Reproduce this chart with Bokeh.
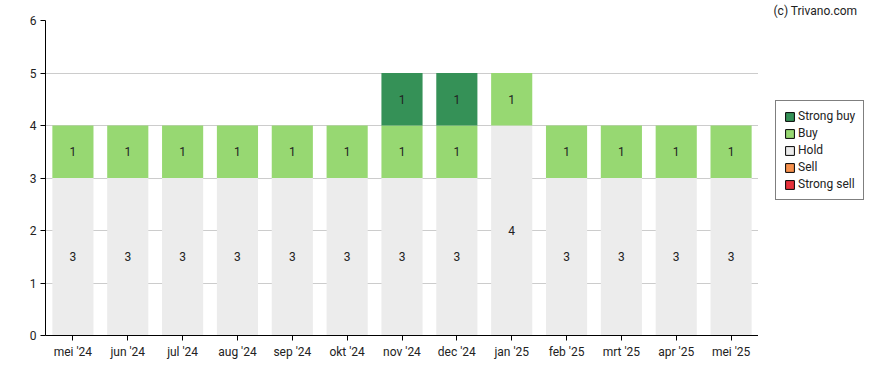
from bokeh.plotting import figure
from bokeh.layouts import row
from bokeh.models import Legend, LegendItem, Title, ColumnDataSource, FactorRange, Range1d, FixedTicker
from bokeh.core.properties import value
from bokeh.embed import file_html
from bokeh.resources import INLINE

months = ["mei '24", "jun '24", "jul '24", "aug '24", "sep '24", "okt '24", "nov '24",
          "dec '24", "jan '25", "feb '25", "mrt '25", "apr '25", "mei '25"]
strong_sell = [0, 0, 0, 0, 0, 0, 0, 0, 0, 0, 0, 0, 0]
sell = [0, 0, 0, 0, 0, 0, 0, 0, 0, 0, 0, 0, 0]
hold = [3, 3, 3, 3, 3, 3, 3, 3, 4, 3, 3, 3, 3]
buy = [1, 1, 1, 1, 1, 1, 1, 1, 1, 1, 1, 1, 1]
strong_buy = [0, 0, 0, 0, 0, 0, 1, 1, 0, 0, 0, 0, 0]

series = ["strong_sell", "sell", "hold", "buy", "strong_buy"]
labels = {"strong_sell": "Strong sell", "sell": "Sell", "hold": "Hold", "buy": "Buy", "strong_buy": "Strong buy"}
colors = {"strong_sell": "#e8323c", "sell": "#f7914d", "hold": "#ececec", "buy": "#97d872", "strong_buy": "#359157"}
data = {"months": months, "strong_sell": strong_sell, "sell": sell, "hold": hold,
        "buy": buy, "strong_buy": strong_buy}

FONT = "Roboto"
FS = "12px"

p = figure(width=758, height=362, x_range=FactorRange(*months, range_padding=0),
           y_range=Range1d(0, 6), output_backend="svg", toolbar_location=None,
           min_border_left=45, min_border_right=0, min_border_top=20, min_border_bottom=27)

p.vbar_stack(series, x="months", width=0.75, source=ColumnDataSource(data),
             color=[colors[s] for s in series], line_color=None)

# segment labels
lx, ly, lt = [], [], []
for i, m in enumerate(months):
    base = 0
    for s in series:
        v = data[s][i]
        if v > 0:
            lx.append(m)
            ly.append(base + v / 2)
            lt.append(str(v))
        base += v
p.text(x=lx, y=ly, text=lt, text_align="center", text_baseline="middle",
       text_font=value(FONT), text_font_size=FS, text_color="#222222")

p.xgrid.grid_line_color = None
p.ygrid.grid_line_color = "#cccccc"
p.ygrid.ticker = FixedTicker(ticks=[0, 1, 2, 3, 4, 5, 6])
p.yaxis.ticker = FixedTicker(ticks=[0, 1, 2, 3, 4, 5, 6])
p.outline_line_color = None
for ax in (p.xaxis, p.yaxis):
    ax.axis_line_color = "#000000"
    ax.major_tick_line_color = "#000000"
    ax.minor_tick_line_color = None
    ax.major_tick_out = 5
    ax.major_tick_in = 0
    ax.major_label_text_font = FONT
    ax.major_label_text_font_size = FS
    ax.major_label_text_color = "#222222"
p.xaxis.major_label_standoff = 4
p.yaxis.major_label_standoff = 4

# side panel with legend and credit
side = figure(width=122, height=362, x_range=Range1d(0, 1), y_range=Range1d(0, 1),
              x_axis_type=None, y_axis_type=None, output_backend="svg", toolbar_location=None,
              min_border_left=0, min_border_right=0, min_border_top=20, min_border_bottom=27)
side.grid.grid_line_color = None
side.outline_line_color = None

items = []
for s in ["strong_buy", "buy", "hold", "sell", "strong_sell"]:
    r = side.vbar(x=data[s], top=data[s], width=0.5,
                  fill_color=colors[s], line_color="#000000", line_width=1, visible=False)
    items.append(LegendItem(label=labels[s], renderers=[r]))
legend = Legend(items=items, location=(17, 135), border_line_color="#000000",
                label_text_font=FONT, label_text_font_size=FS, label_text_color="#222222",
                glyph_width=11, glyph_height=11, label_height=13, spacing=3,
                padding=8, margin=0, label_standoff=3,
                inactive_fill_alpha=0, background_fill_color="#ffffff")
side.add_layout(legend, "center")

side.add_layout(Title(text="(c) Trivano.com", align="left", offset=15, standoff=3,
                      vertical_align="middle", text_font=FONT, text_font_size=FS,
                      text_color="#222222", text_font_style="normal"), "above")

page = row(p, side, spacing=0)
open("out.html", "w").write(file_html(page, INLINE))
